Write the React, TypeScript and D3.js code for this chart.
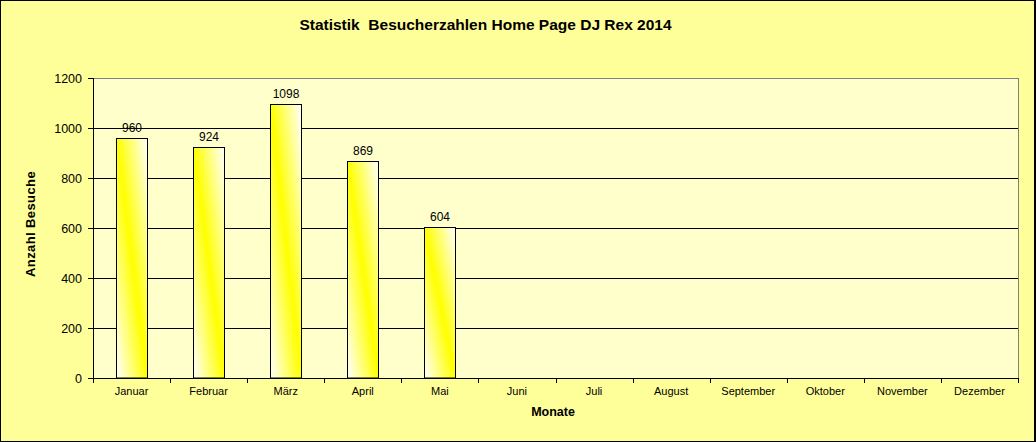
import React from "react";
import * as d3 from "d3";

const months = ["Januar", "Februar", "März", "April", "Mai", "Juni", "Juli", "August", "September", "Oktober", "November", "Dezember"];
const visits: (number | null)[] = [960, 924, 1098, 869, 604, null, null, null, null, null, null, null];
const yTicks = [0, 200, 400, 600, 800, 1000, 1200];

const W = 1036, H = 442;
const L = 93, R = 1018, T = 78, B = 378;

export default function App() {
  const x = d3.scaleBand<string>().domain(months).range([L, R]).paddingInner(0.6).paddingOuter(0.3);
  const y = d3.scaleLinear().domain([0, 1200]).range([B, T]);
  const step = (R - L) / months.length;
  const font = "Arial, 'Liberation Sans', sans-serif";
  return (
    <div style={{ position: "fixed", left: 0, top: 0 }}>
      <svg width={W} height={H} style={{ display: "block" }} fontFamily={font}>
        <defs>
          <linearGradient id="barGrad" x1="0" y1="1" x2="1" y2="0">
            <stop offset="0" stopColor="#ffffff" />
            <stop offset="0.5" stopColor="#ffff00" />
            <stop offset="1" stopColor="#ffffff" />
          </linearGradient>
        </defs>
        <rect x={0.5} y={0.5} width={W - 1.5} height={H - 1} fill="#ffff99" stroke="#000" strokeWidth={1} />
        <line x1={W - 1} y1={0} x2={W - 1} y2={H} stroke="#000" strokeWidth={2} />
        <rect x={L} y={T} width={R - L} height={B - T} fill="#ffffcc" />
        {yTicks.filter(t => t > 0 && t < 1200).map(t => (
          <line key={t} x1={L} x2={R} y1={Math.round(y(t)) + 0.5} y2={Math.round(y(t)) + 0.5} stroke="#000" strokeWidth={1} />
        ))}
        <line x1={L} x2={R + 0.5} y1={T + 0.5} y2={T + 0.5} stroke="#808080" strokeWidth={1} />
        <line x1={R + 0.5} x2={R + 0.5} y1={T} y2={B} stroke="#808080" strokeWidth={1} />
        {months.map((m, i) => {
          const v = visits[i];
          if (v == null) return null;
          const x0 = Math.round(x(m)!) + 0.5;
          const w = Math.round(x.bandwidth());
          const y0 = Math.round(y(v)) + 0.5;
          return (
            <g key={m}>
              <rect x={x0} y={y0} width={w} height={B - y0} fill="url(#barGrad)" stroke="#000" strokeWidth={1} />
              <text x={x0 + w / 2} y={y0 - 7} textAnchor="middle" fontSize={12} fill="#000">{v}</text>
            </g>
          );
        })}
        <line x1={L + 0.5} x2={L + 0.5} y1={T} y2={B + 0.5} stroke="#000" strokeWidth={1} />
        <line x1={L} x2={R + 1} y1={B + 0.5} y2={B + 0.5} stroke="#000" strokeWidth={1} />
        {yTicks.map(t => (
          <g key={t}>
            <line x1={L - 5} x2={L} y1={Math.round(y(t)) + 0.5} y2={Math.round(y(t)) + 0.5} stroke="#000" />
            <text x={L - 11} y={y(t) + 4.5} textAnchor="end" fontSize={12.5} fill="#000">{t}</text>
          </g>
        ))}
        {d3.range(months.length + 1).map(i => (
          <line key={i} x1={Math.round(L + i * step) + 0.5} x2={Math.round(L + i * step) + 0.5} y1={B} y2={B + 5} stroke="#000" />
        ))}
        {months.map(m => (
          <text key={m} x={x(m)! + x.bandwidth() / 2} y={395} textAnchor="middle" fontSize={11} fill="#000">{m}</text>
        ))}
        <text x={485.5} y={30} textAnchor="middle" fontSize={15.5} fontWeight="bold" fill="#000">{"Statistik\u00a0 Besucherzahlen Home Page DJ Rex 2014"}</text>
        <text transform={`translate(35,224) rotate(-90)`} textAnchor="middle" fontSize={13} letterSpacing={0.4} fontWeight="bold" fill="#000">Anzahl Besuche</text>
        <text x={553} y={416} textAnchor="middle" fontSize={12.5} fontWeight="bold" fill="#000">Monate</text>
      </svg>
    </div>
  );
}
